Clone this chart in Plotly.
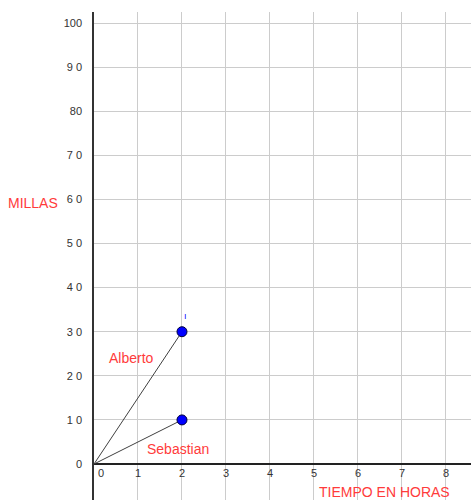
import plotly.graph_objects as go

# Data
x_ticks = [0, 1, 2, 3, 4, 5, 6, 7, 8]
y_ticks = [0, 10, 20, 30, 40, 50, 60, 70, 80, 90, 100]
y_tick_labels = ["0", "1 0", "2 0", "3 0", "4 0", "5 0", "6 0", "7 0", "80", "9 0", "100"]
alberto_x = [0, 2]
alberto_y = [0, 30]
sebastian_x = [0, 2]
sebastian_y = [0, 10]

RED = "#ff3b3b"
LINE = "#404040"
FONT = "Liberation Sans, Arial, sans-serif"

fig = go.Figure()
for xs, ys in [(alberto_x, alberto_y), (sebastian_x, sebastian_y)]:
    fig.add_trace(go.Scatter(x=xs, y=ys, mode="lines",
                             line=dict(color=LINE, width=1), hoverinfo="skip"))
    fig.add_trace(go.Scatter(x=xs[1:], y=ys[1:], mode="markers",
                             marker=dict(color="#0000ff", size=10,
                                         line=dict(color="#00003a", width=1))))

annotations = []
for t in x_ticks:
    annotations.append(dict(x=t + (0.15 if t == 0 else 0), y=0, xref="x", yref="y",
                            text=str(t), showarrow=False, yshift=-9,
                            font=dict(size=11, color="#333", family=FONT)))
annotations += [
    dict(x=0.86, y=24, xref="x", yref="y", text="Alberto", showarrow=False,
         font=dict(size=14, color=RED, family=FONT)),
    dict(x=1.91, y=3.4, xref="x", yref="y", text="Sebastian", showarrow=False,
         font=dict(size=14, color=RED, family=FONT)),
    dict(x=6.6, y=-6.3, xref="x", yref="y", text="TIEMPO EN HORAS", showarrow=False,
         font=dict(size=14, color=RED, family=FONT)),
    dict(x=(33 - 94) / 377, y=(500 - 203) / 488, xref="paper", yref="paper", text="MILLAS",
         xanchor="center", yanchor="middle",
         showarrow=False, font=dict(size=14, color=RED, family=FONT)),
    dict(x=2.08, y=33.5, xref="x", yref="y", text="ı", showarrow=False,
         font=dict(size=9, color="#0000ff", family=FONT)),
]

fig.update_layout(
    width=471, height=500,
    margin=dict(l=94, r=0, t=12, b=0, autoexpand=False),
    paper_bgcolor="white", plot_bgcolor="white",
    showlegend=False,
    xaxis=dict(range=[0, 8.57], tickvals=x_ticks, showticklabels=False,
               showgrid=True, gridcolor="#cccccc", gridwidth=1,
               zeroline=False, showline=False, fixedrange=True),
    yaxis=dict(range=[-8.16, 102.5], tickvals=y_ticks, ticktext=y_tick_labels,
               showgrid=True, gridcolor="#cccccc", gridwidth=1,
               zeroline=True, zerolinecolor="#222", zerolinewidth=1.5,
               showline=True, linecolor="#333", linewidth=1.5,
               ticks="", ticklabelstandoff=8,
               tickfont=dict(size=11, color="#333", family=FONT), fixedrange=True),
    annotations=annotations,
)

fig.write_html("out.html", config={"displayModeBar": False},
               post_script="document.body.style.margin='0';document.body.style.overflow='hidden';")
